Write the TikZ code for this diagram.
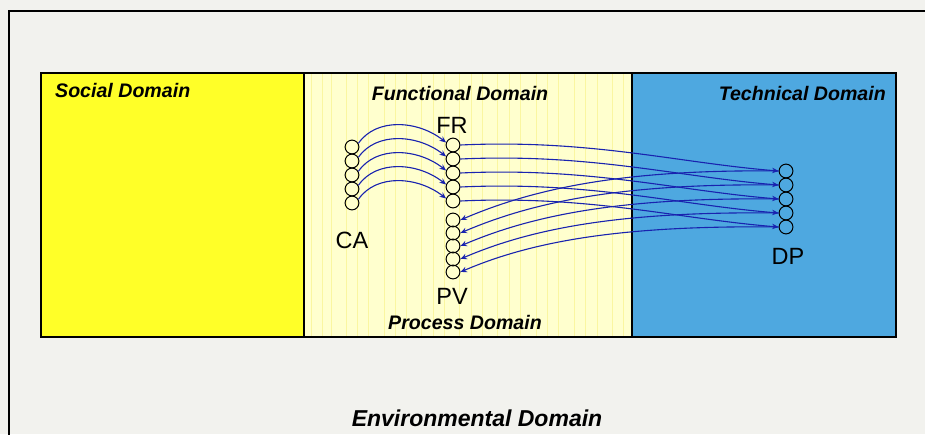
\documentclass[tikz,border=0pt]{standalone}
\usepackage{fontspec}
\setmainfont{Liberation Sans}
\usetikzlibrary{arrows.meta}
\definecolor{paper}{RGB}{242,242,238}
\definecolor{socialY}{RGB}{255,255,40}
\definecolor{funcY}{RGB}{255,255,206}
\definecolor{stripeY}{RGB}{250,246,160}
\definecolor{techB}{RGB}{78,168,224}
\definecolor{arrowB}{RGB}{25,35,175}
\tikzset{
  dot/.style={circle,draw=black,line width=1pt,minimum size=13.8pt,inner sep=0pt},
  domtitle/.style={font=\fontsize{19.6}{22}\selectfont\bfseries\itshape,inner sep=0pt},
  biglabel/.style={font=\fontsize{23.5}{26}\selectfont,inner sep=0pt},
  link/.style={draw=arrowB,line width=1.1pt,-{Stealth[length=6.5pt,width=5.5pt]}},
  domainbox/.style={draw=black,line width=1.3pt}
}
\begin{document}
\begin{tikzpicture}[x=1pt,y=-1pt]
\useasboundingbox (0,0) rectangle (925,434);
\fill[paper] (0,0) rectangle (925,434);
\draw[line width=1.6pt] (9,440) -- (9,11) -- (930,11);
% domains
\fill[socialY] (41,73) rectangle (304,337);
\fill[funcY] (304,73) rectangle (632,337);
\foreach \x in {311,322,331,346,357,368,384,395,406,421,433,444,459,471,482,497,509,520,536,547,558,574,585,597,612,623}
  \draw[stripeY,line width=1pt] (\x,74) -- (\x,336);
\fill[techB] (632,73) rectangle (896,337);
\draw[domainbox] (41,73) rectangle (896,337);
\draw[domainbox] (304,73) -- (304,337);
\draw[domainbox] (632,73) -- (632,337);
% titles
\node[domtitle,anchor=base west] (tsoc) at (55,97) {Social Domain};
\node[domtitle,anchor=base] (tfun) at (460,100) {Functional Domain};
\node[domtitle,anchor=base east] (ttec) at (886,100) {Technical Domain};
\node[domtitle,anchor=base] (tpro) at (465,329) {Process Domain};
\node[font=\fontsize{23}{26}\selectfont\bfseries\itshape,inner sep=0pt,anchor=base] (tenv) at (477,426) {Environmental Domain};
% nodes
\foreach \i/\y in {1/147,2/161,3/175,4/189,5/203} \node[dot] (ca\i) at (352,\y) {};
\foreach \i/\y in {1/145,2/159,3/173,4/187,5/201} \node[dot] (fr\i) at (453,\y) {};
\foreach \i/\y in {1/220,2/233,3/246,4/259,5/272} \node[dot] (pv\i) at (453,\y) {};
\foreach \i/\y in {1/171,2/185,3/199,4/213,5/227} \node[dot] (dp\i) at (786,\y) {};
\node[biglabel] (lfr) at (452,125) {FR};
\node[biglabel] (lca) at (352,240) {CA};
\node[biglabel] (lpv) at (452,296) {PV};
\node[biglabel] (ldp) at (788,256) {DP};
% connectors
\foreach \i in {1,...,5} {
  \draw[link] (ca\i.30) .. controls +(18,-26) and +(-28,-22) .. (fr\i.160);
  \draw[link] (fr\i.east) .. controls +(130,-6) and +(-100,-8) .. (dp\i.west);
  \draw[link] (dp\i.west) .. controls +(-160,-2) and +(70,-30) .. (pv\i.east);
}
\end{tikzpicture}
\end{document}
